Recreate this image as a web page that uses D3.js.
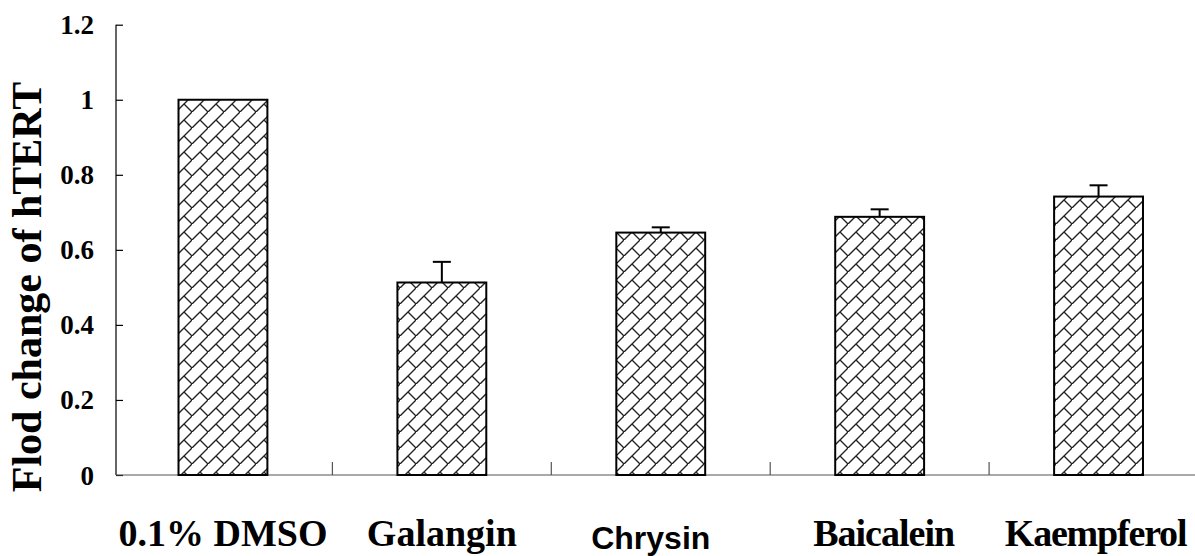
<!DOCTYPE html>
<html>
<head>
<meta charset="utf-8">
<script src="https://cdn.jsdelivr.net/npm/d3@7/dist/d3.min.js"></script>
<style>
  html, body { margin: 0; padding: 0; background: #fff; }
  svg { display: block; }
</style>
</head>
<body>
<svg id="chart" width="1195" height="556"></svg>
<script>
// hTERT expression after flavonoid treatment
const categories = ["0.1% DMSO", "Galangin", "Chrysin", "Baicalein", "Kaempferol"];
const values = [1.0, 0.513, 0.646, 0.688, 0.742];
const errors = [0, 0.055, 0.014, 0.020, 0.030];
const yTicks = [0, 0.2, 0.4, 0.6, 0.8, 1, 1.2];
const yTickLabels = ["0", "0.2", "0.4", "0.6", "0.8", "1", "1.2"];
const yTitle = "Flod change of hTERT";

const svg = d3.select("#chart");
const W = 1195, H = 556;
const plot = { left: 116, top: 24.7, bottom: 475, right: 1210 };

const x = d3.scaleBand()
  .domain(categories)
  .range([113.5, 1208])
  .padding(0);

const y = d3.scaleLinear()
  .domain([0, 1.2])
  .range([plot.bottom, plot.top]);

// Diagonal brick hatch
const tile = 16;
const defs = svg.append("defs");
const pat = defs.append("pattern")
  .attr("id", "brick")
  .attr("patternUnits", "userSpaceOnUse")
  .attr("width", tile)
  .attr("height", tile);
pat.append("rect").attr("width", tile).attr("height", tile).attr("fill", "#fff");
pat.append("path")
  .attr("d", `M-1,${tile + 1}L${tile + 1},-1 M${tile / 2},${tile / 2}L${tile},${tile}`)
  .attr("stroke", "#222")
  .attr("stroke-width", 1.4)
  .attr("fill", "none");

const barW = x.bandwidth() * 0.406;

// Y axis
const yAxis = d3.axisLeft(y)
  .tickValues(yTicks)
  .tickSize(-7)
  .tickPadding(0)
  .tickFormat(() => "");
const gy = svg.append("g")
  .attr("transform", `translate(${plot.left},0)`)
  .call(yAxis);
gy.select(".domain").attr("stroke", "#000").attr("stroke-width", 1.2)
  .attr("d", `M0,${plot.top}V${plot.bottom}`);
gy.selectAll(".tick line").attr("stroke", "#000").attr("stroke-width", 1.2);

// Y tick labels
svg.append("g").selectAll("text")
  .data(yTicks)
  .join("text")
  .attr("x", 94)
  .attr("y", d => y(d) + 9.5)
  .attr("text-anchor", "end")
  .attr("font-family", "Liberation Serif, Times New Roman, serif")
  .attr("font-weight", "bold")
  .attr("font-size", 27)
  .attr("fill", "#000")
  .text((d, i) => yTickLabels[i]);

// X axis with category boundary ticks
const gx = svg.append("g");
gx.append("line")
  .attr("x1", plot.left).attr("x2", W)
  .attr("y1", plot.bottom).attr("y2", plot.bottom)
  .attr("stroke", "#555").attr("stroke-width", 1.2);
gx.selectAll("line.sep")
  .data(categories.slice(1))
  .join("line")
  .attr("class", "sep")
  .attr("x1", d => x(d)).attr("x2", d => x(d))
  .attr("y1", plot.bottom).attr("y2", plot.bottom - 13)
  .attr("stroke", "#555").attr("stroke-width", 1.2);

// Bars
svg.append("g").selectAll("rect")
  .data(categories)
  .join("rect")
  .attr("x", d => x(d) + (x.bandwidth() - barW) / 2)
  .attr("y", (d, i) => y(values[i]))
  .attr("width", barW)
  .attr("height", (d, i) => y(0) - y(values[i]))
  .attr("fill", "url(#brick)")
  .attr("stroke", "#000")
  .attr("stroke-width", 2);

// Error bars (upper only)
const eb = svg.append("g");
categories.forEach((c, i) => {
  if (!errors[i]) return;
  const cx = x(c) + x.bandwidth() / 2;
  eb.append("line")
    .attr("x1", cx).attr("x2", cx)
    .attr("y1", y(values[i])).attr("y2", y(values[i] + errors[i]))
    .attr("stroke", "#000").attr("stroke-width", 2);
  eb.append("line")
    .attr("x1", cx - 9).attr("x2", cx + 9)
    .attr("y1", y(values[i] + errors[i])).attr("y2", y(values[i] + errors[i]))
    .attr("stroke", "#000").attr("stroke-width", 2);
});

// Category labels
const labelStyle = [
  { font: "Liberation Serif, serif", size: 38, dy: 546, off: 0, ls: 0 },
  { font: "Liberation Serif, serif", size: 38, dy: 546, off: 0, ls: 0 },
  { font: "Liberation Sans, Arial, sans-serif", size: 32, dy: 549, off: -10, ls: 0 },
  { font: "Liberation Serif, serif", size: 38, dy: 546, off: 4, ls: -1 },
  { font: "Liberation Serif, serif", size: 38, dy: 546, off: -3, ls: -1.2 }
];
svg.append("g").selectAll("text")
  .data(categories)
  .join("text")
  .attr("x", (d, i) => x(d) + x.bandwidth() / 2 + labelStyle[i].off)
  .attr("y", (d, i) => labelStyle[i].dy)
  .attr("text-anchor", "middle")
  .attr("font-family", (d, i) => labelStyle[i].font)
  .attr("font-size", (d, i) => labelStyle[i].size)
  .attr("letter-spacing", (d, i) => labelStyle[i].ls)
  .attr("font-weight", "bold")
  .attr("fill", "#000")
  .text(d => d);

// Y title
svg.append("text")
  .attr("transform", `translate(41,287) rotate(-90)`)
  .attr("text-anchor", "middle")
  .attr("font-family", "Liberation Serif, Times New Roman, serif")
  .attr("font-weight", "bold")
  .attr("font-size", 42)
  .attr("fill", "#000")
  .text(yTitle);
</script>
</body>
</html>
